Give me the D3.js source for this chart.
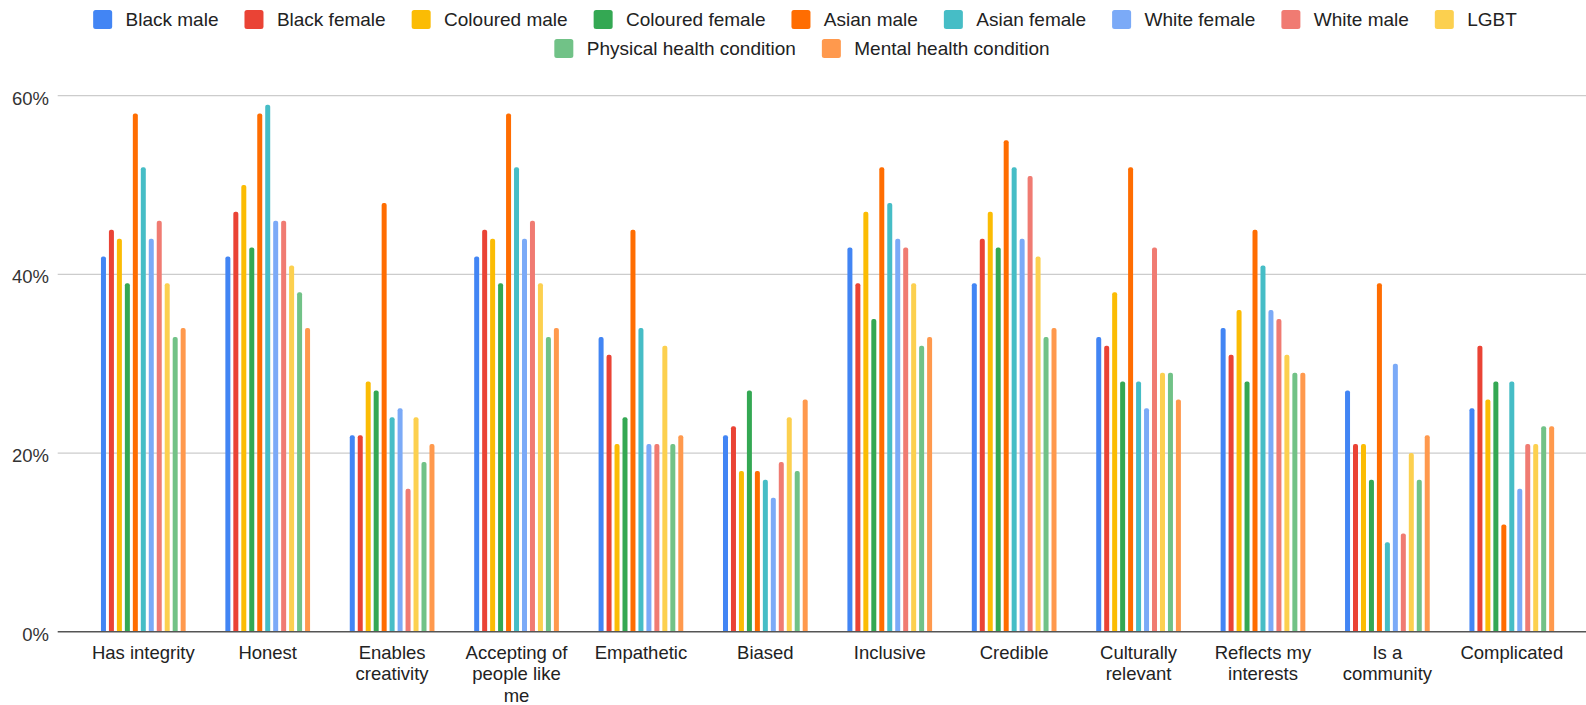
<!DOCTYPE html>
<html>
<head>
<meta charset="utf-8">
<script src="https://cdn.jsdelivr.net/npm/d3@7"></script>
<style>
  html, body { margin: 0; padding: 0; background: #fff; }
  svg { display: block; font-family: "Liberation Sans", Arial, sans-serif; }
</style>
</head>
<body>
<svg id="chart" width="1586" height="705"></svg>
<script>
const categories = ["Has integrity", "Honest", "Enables creativity", "Accepting of people like me",
  "Empathetic", "Biased", "Inclusive", "Credible", "Culturally relevant",
  "Reflects my interests", "Is a community", "Complicated"];

const seriesNames = ["Black male", "Black female", "Coloured male", "Coloured female", "Asian male",
  "Asian female", "White female", "White male", "LGBT", "Physical health condition", "Mental health condition"];

const seriesColors = ["#4285F4", "#EA4335", "#FBBC04", "#34A853", "#FF6D01",
  "#46BDC6", "#7BAAF7", "#F07B72", "#FCD04F", "#71C287", "#FF994D"];

// values in % per series, in category order
const blackMale       = [42, 42, 22, 42, 33, 22, 43, 39, 33, 34, 27, 25];
const blackFemale     = [45, 47, 22, 45, 31, 23, 39, 44, 32, 31, 21, 32];
const colouredMale    = [44, 50, 28, 44, 21, 18, 47, 47, 38, 36, 21, 26];
const colouredFemale  = [39, 43, 27, 39, 24, 27, 35, 43, 28, 28, 17, 28];
const asianMale       = [58, 58, 48, 58, 45, 18, 52, 55, 52, 45, 39, 12];
const asianFemale     = [52, 59, 24, 52, 34, 17, 48, 52, 28, 41, 10, 28];
const whiteFemale     = [44, 46, 25, 44, 21, 15, 44, 44, 25, 36, 30, 16];
const whiteMale       = [46, 46, 16, 46, 21, 19, 43, 51, 43, 35, 11, 21];
const lgbt            = [39, 41, 24, 39, 32, 24, 39, 42, 29, 31, 20, 21];
const physicalHealth  = [33, 38, 19, 33, 21, 18, 32, 33, 29, 29, 17, 23];
const mentalHealth    = [34, 34, 21, 34, 22, 26, 33, 34, 26, 29, 22, 23];

const seriesValues = [blackMale, blackFemale, colouredMale, colouredFemale, asianMale,
  asianFemale, whiteFemale, whiteMale, lgbt, physicalHealth, mentalHealth];

const yTicks = [0, 20, 40, 60];
const yTickLabels = ["0%", "20%", "40%", "60%"];

const svg = d3.select("#chart");

const y = d3.scaleLinear().domain([0, 60]).range([631.7, 95.7]);
const x0 = d3.scaleBand().domain(categories).range([81.1, 1574.0]).padding(0);
const x1 = d3.scalePoint().domain(seriesNames).range([-39.85, 39.85]);
const barW = 5;

// gridlines
const grid = svg.append("g");
grid.selectAll("line").data(yTicks.filter(t => t !== 0)).join("line")
  .attr("x1", 57.7).attr("x2", 1586)
  .attr("y1", d => y(d)).attr("y2", d => y(d))
  .attr("stroke", "#cccccc").attr("stroke-width", 1.3);

// y labels
svg.append("g").selectAll("text").data(yTicks).join("text")
  .attr("x", 49).attr("y", d => y(d) + 2.5)
  .attr("dy", "0.35em")
  .attr("text-anchor", "end")
  .attr("font-size", "18.5px")
  .attr("fill", "#333")
  .text((d, i) => yTickLabels[i]);

// bars
function barPath(cx, v) {
  const x = cx - barW / 2, top = y(v), bottom = y(0), r = 2;
  return `M${x},${bottom} L${x},${top + r} Q${x},${top} ${x + r},${top} L${x + barW - r},${top} Q${x + barW},${top} ${x + barW},${top + r} L${x + barW},${bottom} Z`;
}
const barData = [];
categories.forEach((c, ci) => {
  seriesNames.forEach((s, si) => {
    barData.push({ c, s, si, v: seriesValues[si][ci] });
  });
});
svg.append("g").selectAll("path").data(barData).join("path")
  .attr("d", d => barPath(x0(d.c) + x0.bandwidth() / 2 + x1(d.s), d.v))
  .attr("fill", d => seriesColors[d.si]);

// baseline
svg.append("line")
  .attr("x1", 57.7).attr("x2", 1586)
  .attr("y1", y(0)).attr("y2", y(0))
  .attr("stroke", "#555").attr("stroke-width", 1.6);

// category labels with wrapping
const maxW = 110;
const lab = svg.append("g");
categories.forEach(c => {
  const cx = x0(c) + x0.bandwidth() / 2;
  const t = lab.append("text")
    .attr("x", cx).attr("y", 658.8)
    .attr("text-anchor", "middle")
    .attr("font-size", "18.5px")
    .attr("fill", "#222");
  const words = c.split(" ");
  let line = [];
  let tspan = t.append("tspan").attr("x", cx).attr("dy", 0);
  words.forEach(w => {
    line.push(w);
    tspan.text(line.join(" "));
    if (tspan.node().getComputedTextLength() > maxW && line.length > 1) {
      line.pop();
      tspan.text(line.join(" "));
      line = [w];
      tspan = t.append("tspan").attr("x", cx).attr("dy", 21.4).text(w);
    }
  });
});

// legend
const legendRows = [seriesNames.slice(0, 9), seriesNames.slice(9)];
const rowY = [19.5, 48.5];
const rowCenter = [805, 802];
const sq = 19, gapText = 13.4, gapItem = 26;
legendRows.forEach((row, ri) => {
  const g = svg.append("g");
  let xpos = 0;
  const items = [];
  row.forEach(name => {
    const si = seriesNames.indexOf(name);
    const tmp = g.append("text").attr("font-size", "19px").text(name);
    const w = tmp.node().getComputedTextLength();
    tmp.remove();
    items.push({ name, si, x: xpos, w });
    xpos += sq + gapText + w + gapItem;
  });
  const total = xpos - gapItem;
  const start = rowCenter[ri] - total / 2;
  items.forEach(it => {
    g.append("rect")
      .attr("x", start + it.x).attr("y", rowY[ri] - sq / 2)
      .attr("width", sq).attr("height", sq)
      .attr("rx", 2.5)
      .attr("fill", seriesColors[it.si]);
    g.append("text")
      .attr("x", start + it.x + sq + gapText).attr("y", rowY[ri])
      .attr("dy", "0.35em")
      .attr("font-size", "19px")
      .attr("fill", "#222")
      .text(it.name);
  });
});
</script>
</body>
</html>
